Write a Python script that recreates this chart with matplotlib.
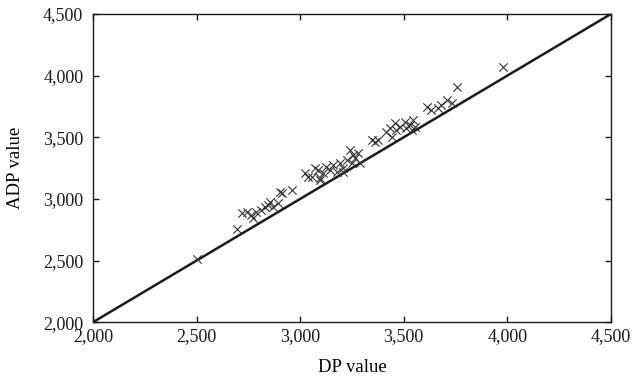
import matplotlib
matplotlib.use("Agg")
import matplotlib.pyplot as plt
from matplotlib.ticker import FuncFormatter

# Data
dp_values = [2500, 2693, 2717, 2741, 2765, 2774, 2789, 2813, 2830, 2846, 2854, 2870, 2894, 2902, 2912, 2959,
             3023, 3039, 3055, 3071, 3087, 3095, 3111, 3127, 3144, 3160, 3176, 3192, 3208, 3224, 3248, 3264,
             3240, 3256, 3281, 3289, 3208, 3095,
             3345, 3361, 3377, 3416, 3433, 3441, 3457, 3465, 3482, 3506, 3513, 3530, 3538, 3546, 3554,
             3613, 3634, 3666, 3682, 3707, 3731, 3755, 3977]
adp_values = [2510, 2752, 2882, 2896, 2869, 2842, 2896, 2909, 2936, 2950, 2977, 2936, 2963, 3058, 3045, 3071,
              3207, 3180, 3180, 3248, 3234, 3166, 3207, 3261, 3234, 3275, 3220, 3288, 3248, 3316, 3288, 3329,
              3396, 3356, 3369, 3288, 3220, 3153,
              3477, 3463, 3477, 3545, 3572, 3504, 3613, 3559, 3586, 3627, 3572, 3600, 3559, 3640, 3586,
              3748, 3721, 3734, 3761, 3802, 3775, 3905, 4072]
diag = [2000, 4500]
ticks = [2000, 2500, 3000, 3500, 4000, 4500]

plt.rcParams['font.family'] = ['Liberation Serif', 'DejaVu Serif']

fig = plt.figure(figsize=(6.33, 3.79), dpi=100)
ax = fig.add_axes([0.147, 0.150, 0.818, 0.813])

ax.plot(diag, diag, color='#1a1a1a', lw=1.8)
ax.scatter(dp_values, adp_values, marker='x', s=36, color='#333333', linewidths=0.8, zorder=3)

ax.set_xlim(2000, 4500)
ax.set_ylim(2000, 4500)
ax.set_xticks(ticks)
ax.set_yticks(ticks)
fmt = FuncFormatter(lambda v, p: f"{int(v):,}")
ax.xaxis.set_major_formatter(fmt)
ax.yaxis.set_major_formatter(fmt)
ax.tick_params(direction='in', top=True, right=True, length=4, width=1, labelsize=13, colors='#1a1a1a')
ax.tick_params(axis='y', pad=7)
ax.tick_params(axis='x', pad=4)
for s in ax.spines.values():
    s.set_linewidth(1.0)
    s.set_color('#1a1a1a')

ax.set_xlabel('DP value', fontsize=13.5, labelpad=10)
ax.set_ylabel('ADP value', fontsize=13.5, labelpad=14)

fig.savefig('out.png', dpi=100)
